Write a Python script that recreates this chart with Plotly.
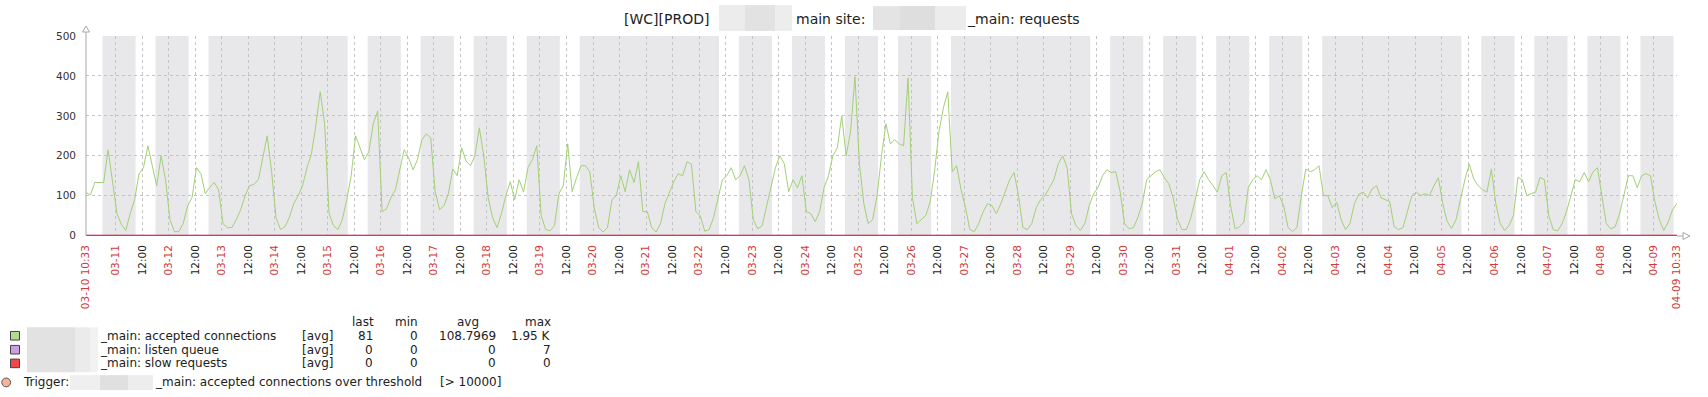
import pandas as pd
import plotly.graph_objects as go

# ---------------- data ----------------
START = "2020-03-10 10:33"
END = "2020-04-09 10:33"
STEP_HOURS = 2

accepted = [
    108, 102, 133, 133, 133, 215, 140, 55, 28, 13,
    55, 90, 155, 170, 225, 175, 125, 200, 140, 40,
    10, 10, 30, 75, 96, 170, 155, 105, 121, 133,
    115, 30, 20, 20, 40, 65, 100, 125, 128, 140,
    200, 250, 160, 45, 15, 22, 45, 80, 100, 125,
    170, 204, 275, 360, 280, 55, 25, 15, 40, 90,
    150, 250, 220, 190, 210, 280, 312, 60, 67, 95,
    115, 165, 215, 195, 165, 190, 240, 255, 245, 110,
    65, 75, 105, 167, 150, 220, 187, 175, 200, 270,
    200, 95, 45, 20, 55, 100, 135, 90, 140, 109,
    170, 190, 225, 50, 15, 12, 25, 105, 125, 230,
    110, 145, 175, 175, 160, 70, 20, 9, 20, 90,
    100, 150, 110, 165, 133, 185, 60, 60, 20, 9,
    30, 80, 110, 135, 155, 150, 185, 179, 60, 50,
    11, 15, 45, 90, 140, 150, 170, 140, 150, 175,
    140, 40, 17, 25, 75, 125, 170, 200, 180, 110,
    140, 120, 150, 60, 55, 35, 60, 120, 150, 200,
    220, 300, 200, 260, 398, 180, 80, 30, 40, 100,
    200, 280, 230, 240, 230, 225, 395, 95, 30, 40,
    50, 84, 160, 260, 320, 360, 160, 175, 115, 70,
    15, 10, 30, 60, 80, 75, 55, 80, 110, 140,
    158, 100, 20, 15, 30, 70, 90, 100, 120, 140,
    180, 200, 170, 55, 25, 13, 30, 75, 105, 120,
    150, 165, 158, 160, 110, 30, 17, 20, 45, 80,
    140, 150, 160, 165, 145, 130, 95, 40, 15, 15,
    45, 90, 140, 160, 140, 125, 109, 150, 158, 75,
    17, 22, 34, 120, 140, 150, 140, 165, 140, 92,
    100, 75, 20, 10, 20, 100, 167, 160, 165, 175,
    100, 100, 70, 84, 40, 15, 30, 80, 104, 109,
    95, 117, 125, 95, 90, 85, 22, 15, 20, 60,
    100, 109, 100, 105, 100, 125, 145, 80, 35, 18,
    40, 90, 140, 179, 142, 125, 115, 109, 167, 80,
    30, 13, 25, 50, 146, 140, 100, 105, 109, 146,
    140, 50, 15, 12, 30, 60, 100, 140, 135, 158,
    135, 160, 170, 100, 30, 17, 22, 55, 100, 150,
    150, 120, 150, 155, 150, 85, 40, 13, 34, 65,
    81,
]
listen_queue = [0] * len(accepted)
slow_requests = [0] * len(accepted)

weekend_days = ["2020-03-13", "2020-03-14", "2020-03-20", "2020-03-21",
                "2020-03-27", "2020-03-28", "2020-04-03", "2020-04-04"]
work_start_hour = 9
work_end_hour = 18

y_ticks = [0, 100, 200, 300, 400, 500]

title_parts = ["[WC][PROD]", "main site:", "_main: requests"]
legend_names = ["_main: accepted connections", "_main: listen queue", "_main: slow requests"]
legend_colors = ["#b4d98f", "#c9a0e2", "#f04848"]
legend_last = ["81", "0", "0"]
legend_min = ["0", "0", "0"]
legend_avg = ["108.7969", "0", "0"]
legend_max = ["1.95 K", "7", "0"]
trigger_text = "_main: accepted connections over threshold"
trigger_value = "[> 10000]"

# ---------------- geometry ----------------
W, H = 1708, 397
L, R, T, B = 86, 1677, 36, 236.5
FONT = "DejaVu Sans"
RED = "#d23a3a"
LEG_FS = 12


def px(x):
    return (x - L) / (R - L)


def py(y):
    return (B - y) / (B - T)


start = pd.Timestamp(START)
end = pd.Timestamp(END)
times = [start + pd.Timedelta(hours=STEP_HOURS * i) for i in range(len(accepted))]

fig = go.Figure()
fig.add_trace(go.Scatter(x=times, y=accepted, mode="lines",
                         line=dict(color="#a2d076", width=1), hoverinfo="skip"))
fig.add_trace(go.Scatter(x=times, y=listen_queue, mode="lines",
                         line=dict(color="#c9a0e2", width=1.5), hoverinfo="skip"))
fig.add_trace(go.Scatter(x=times, y=slow_requests, mode="lines",
                         line=dict(color="#e23a3a", width=1.6), hoverinfo="skip"))

shapes = []
# non-working time shading
weekend = set(pd.to_datetime(weekend_days).date)
gray_start = start
day = start.normalize()
while day <= end:
    if day.date() not in weekend:
        ws = day + pd.Timedelta(hours=work_start_hour)
        we = day + pd.Timedelta(hours=work_end_hour)
        ws_c, we_c = max(ws, start), min(we, end)
        if ws_c < we_c:
            if gray_start < ws_c:
                shapes.append(dict(type="rect", xref="x", yref="paper", x0=gray_start, x1=ws_c,
                                   y0=0, y1=1, fillcolor="#e8e8ea", line_width=0, layer="below"))
            gray_start = we_c
    day += pd.Timedelta(days=1)
if gray_start < end:
    shapes.append(dict(type="rect", xref="x", yref="paper", x0=gray_start, x1=end,
                       y0=0, y1=1, fillcolor="#e8e8ea", line_width=0, layer="below"))

# axes lines with arrows
axc = "#a8a8a8"
shapes.append(dict(type="line", xref="paper", yref="paper", x0=px(86), x1=px(86), y0=py(B), y1=py(28),
                   line=dict(color=axc, width=1)))
shapes.append(dict(type="path", xref="paper", yref="paper",
                   path=f"M {px(82.5)} {py(32)} L {px(86)} {py(26)} L {px(89.5)} {py(32)} Z",
                   line=dict(color=axc, width=1), fillcolor="white"))
shapes.append(dict(type="line", xref="paper", yref="paper", x0=px(R), x1=px(1688), y0=py(B), y1=py(B),
                   line=dict(color=axc, width=1)))
shapes.append(dict(type="path", xref="paper", yref="paper",
                   path=f"M {px(1683)} {py(B - 3.5)} L {px(1690)} {py(B)} L {px(1683)} {py(B + 3.5)} Z",
                   line=dict(color=axc, width=1), fillcolor="white"))


def blur(x0, x1, y0, y1, color):
    shapes.append(dict(type="rect", xref="paper", yref="paper", x0=px(x0), x1=px(x1),
                       y0=py(y1), y1=py(y0), fillcolor=color, line_width=0, layer="above"))


# redaction blur patches (title)
blur(719, 745, 5, 31, "#ececec")
blur(745, 775, 5, 31, "#e2e2e2")
blur(775, 792, 5, 31, "#ededed")
blur(873, 900, 6, 30, "#e4e4e4")
blur(900, 935, 6, 30, "#dedede")
blur(935, 966, 6, 30, "#ececec")
# legend blur
blur(27, 75, 328, 373, "#e2e2e2")
blur(75, 90, 328, 373, "#ebebeb")
blur(90, 98, 328, 373, "#f2f2f2")
blur(70, 100, 376, 391, "#efefef")
blur(100, 128, 376, 391, "#e0e0e0")
blur(128, 153, 376, 391, "#ededed")

annotations = []


def text(x, y, s, anchor="left", size=LEG_FS, color="#222222"):
    annotations.append(dict(x=px(x), y=py(y), xref="paper", yref="paper", text=s, showarrow=False,
                            xanchor=anchor, yanchor="middle", borderpad=0,
                            font=dict(family=FONT, size=size, color=color)))


# title
text(623, 19.3, title_parts[0], size=14)
text(795, 19.3, title_parts[1], size=14)
text(966, 19.3, title_parts[2], size=14)

# legend header
text(375, 322.7, "last", "right")
text(418.5, 322.7, "min", "right")
text(480, 322.7, "avg", "right")
text(552, 322.7, "max", "right")
rows_y = [336.5, 350.5, 364.2]
for i in range(3):
    yy = rows_y[i]
    shapes.append(dict(type="rect", xref="paper", yref="paper", x0=px(10.5), x1=px(19.5),
                       y0=py(yy + 4.3), y1=py(yy - 4.3), fillcolor=legend_colors[i],
                       line=dict(color="#444444", width=1)))
    text(99, yy, legend_names[i])
    text(301, yy, "[avg]")
    text(374, yy, legend_last[i], "right")
    text(418.5, yy, legend_min[i], "right")
    text(497, yy, legend_avg[i], "right")
    text(552, yy, legend_max[i], "right")

# trigger row
shapes.append(dict(type="circle", xref="paper", yref="paper", x0=px(1.8), x1=px(10.6),
                   y0=py(387.7), y1=py(378.9), fillcolor="#f4b49a", line=dict(color="#555555", width=1)))
text(22, 383.3, "Trigger:")
text(154, 383.3, trigger_text)
text(438.5, 383.3, trigger_value)

# x ticks
tickvals, ticktext = [start], [f'<span style="color:{RED}">{start:%m-%d %H:%M}</span>']
t = start.normalize() + pd.Timedelta(days=1)
while t < end:
    tickvals.append(t)
    ticktext.append(f'<span style="color:{RED}">{t:%m-%d}</span>')
    noon = t + pd.Timedelta(hours=12)
    if noon < end:
        tickvals.append(noon)
        ticktext.append('<span style="color:#222222">12:00</span>')
    t += pd.Timedelta(days=1)
tickvals.append(end)
ticktext.append(f'<span style="color:{RED}">{end:%m-%d %H:%M}</span>')

fig.update_layout(
    width=W, height=H,
    margin=dict(l=L, r=W - R, t=T, b=H - B, autoexpand=False),
    paper_bgcolor="white", plot_bgcolor="rgba(0,0,0,0)",
    showlegend=False,
    shapes=shapes, annotations=annotations,
    font=dict(family=FONT, size=10, color="#222222"),
)
fig.update_xaxes(type="date", range=[start, end], tickmode="array", tickvals=tickvals, ticktext=ticktext,
                 tickangle=-90, tickfont=dict(family=FONT, size=10.5),
                 showgrid=True, gridcolor="#c4c4c4", griddash="dot", gridwidth=1,
                 zeroline=False, showline=False, ticks="", ticklabelstandoff=6)
fig.update_yaxes(range=[-1, 500], tickmode="array", tickvals=y_ticks,
                 tickfont=dict(family=FONT, size=10.5, color="#333333"),
                 showgrid=True, gridcolor="#c4c4c4", griddash="dot", gridwidth=1,
                 zeroline=False, showline=False, ticks="", ticklabelstandoff=9)

fig.write_html("out.html", config={"displayModeBar": False},
               post_script="document.body.style.margin='0px';document.body.style.overflow='hidden';")
